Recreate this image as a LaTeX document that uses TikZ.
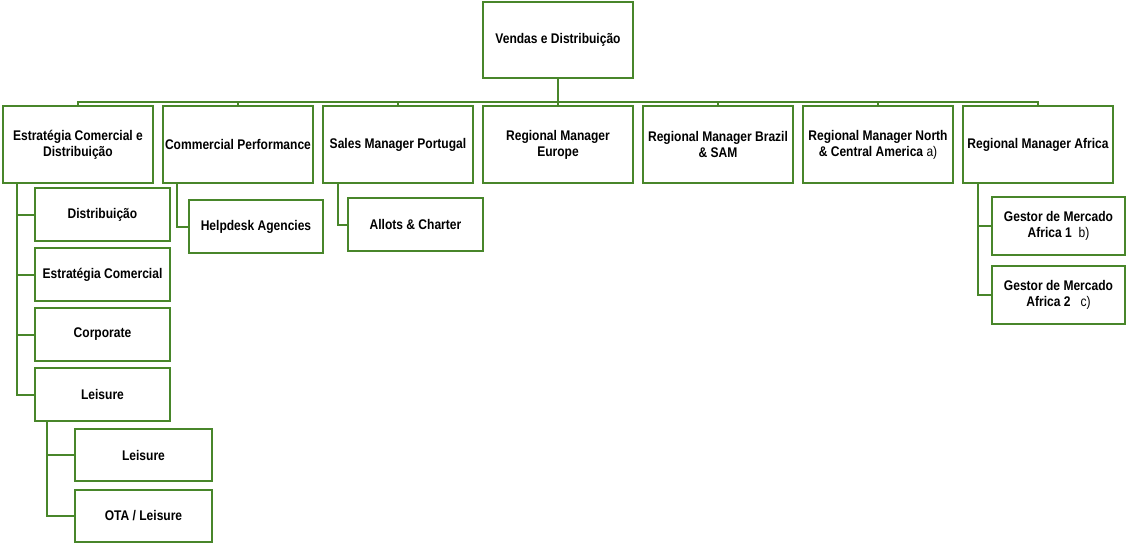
\documentclass[tikz,border=0pt]{standalone}
\usepackage{fontspec}
\setmainfont{Liberation Sans}[FakeStretch=0.86]
\usepackage{tikz}
\usetikzlibrary{positioning, calc}
\definecolor{orggreen}{RGB}{72,134,42}
\tikzstyle{orgbox} = [rectangle, minimum width=112.5pt, minimum height=57.75pt, text centered, align=center, draw=orggreen, line width=1.5pt, font=\fontsize{10.5}{12}\selectfont\bfseries, inner sep=1pt]
\tikzstyle{subbox} = [orgbox, minimum width=101.25pt, minimum height=39.75pt]
\tikzstyle{link} = [draw=orggreen, line width=1.5pt]
\newcommand{\note}[1]{{\mdseries #1}}

\begin{document}
\begin{tikzpicture}[node distance=6pt]
\useasboundingbox (-418.5pt,30pt) rectangle (426pt,-377.25pt);

% nodo principale
\node (vendas) [orgbox, minimum height=57pt] {Vendas e Distribuição};

% primo livello
\node (eur) [orgbox, below=19.5pt of vendas] {Regional Manager\\Europe};
\node (smp) [orgbox, left=of eur] {Sales Manager Portugal};
\node (cp) [orgbox, left=of smp] {Commercial Performance};
\node (est) [orgbox, left=of cp] {Estratégia Comercial e\\Distribuição};
\node (bra) [orgbox, right=of eur] {Regional Manager Brazil\\\& SAM};
\node (nca) [orgbox, right=of bra] {Regional Manager North\\\& Central America \note{a)}};
\node (afr) [orgbox, right=of nca] {Regional Manager Africa};

% sotto Estratégia Comercial e Distribuição
\node (distr) [subbox, below=2.25pt of est.south west, anchor=north west, xshift=24pt] {Distribuição};
\node (estc) [subbox, below=3.75pt of distr] {Estratégia Comercial};
\node (corp) [subbox, below=3.75pt of estc] {Corporate};
\node (leis) [subbox, below=3.75pt of corp] {Leisure};
\node (leis2) [subbox, minimum width=102.75pt, minimum height=39pt, below=4.5pt of leis.south west, anchor=north west, xshift=30pt] {Leisure};
\node (ota) [subbox, minimum width=102.75pt, minimum height=39pt, below=5.25pt of leis2] {OTA / Leisure};

% sotto Commercial Performance e Sales Manager Portugal
\node (help) [subbox, minimum width=100.5pt, below=11.25pt of cp.south west, anchor=north west, xshift=19.5pt] {Helpdesk Agencies};
\node (allots) [subbox, below=9.75pt of smp.south west, anchor=north west, xshift=18.75pt] {Allots \& Charter};

% sotto Regional Manager Africa
\node (g1) [subbox, minimum width=99.75pt, minimum height=43.5pt, below=9pt of afr.south west, anchor=north west, xshift=21.75pt] {Gestor de Mercado\\Africa 1\ \ \note{b)}};
\node (g2) [subbox, minimum width=99.75pt, minimum height=43.5pt, below=6.75pt of g1] {Gestor de Mercado\\Africa 2\ \ \ \note{c)}};

% connessioni
\foreach \n in {est, cp, smp, eur, bra, nca, afr}
  \draw [link] (vendas.south) -- ++(0,-17.25pt) -| (\n.north);
\foreach \n in {distr, estc, corp, leis}
  \draw [link] ($(est.south west)+(11.25pt,0)$) |- (\n.west);
\foreach \n in {leis2, ota}
  \draw [link] ($(leis.south west)+(9.75pt,0)$) |- (\n.west);
\draw [link] ($(cp.south west)+(11.25pt,0)$) |- (help.west);
\draw [link] ($(smp.south west)+(12pt,0)$) |- (allots.west);
\foreach \n in {g1, g2}
  \draw [link] ($(afr.south west)+(12pt,0)$) |- (\n.west);

\end{tikzpicture}
\end{document}
